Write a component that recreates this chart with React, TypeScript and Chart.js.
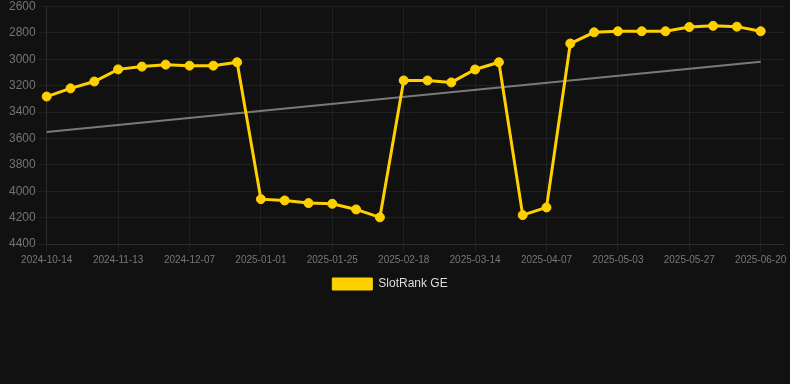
import React, { useEffect, useRef } from "react";
import { Chart, registerables } from "chart.js";

Chart.register(...registerables);

const dates: string[] = [
  "2024-10-14", "2024-10-24", "2024-11-03", "2024-11-13", "2024-11-21", "2024-11-29",
  "2024-12-07", "2024-12-15", "2024-12-23", "2025-01-01", "2025-01-09", "2025-01-17",
  "2025-01-25", "2025-02-02", "2025-02-10", "2025-02-18", "2025-02-26", "2025-03-06",
  "2025-03-14", "2025-03-22", "2025-03-30", "2025-04-07", "2025-04-16", "2025-04-25",
  "2025-05-03", "2025-05-11", "2025-05-19", "2025-05-27", "2025-06-04", "2025-06-12",
  "2025-06-20", "2025-06-28",
];

const rankValues: (number | null)[] = [
  3282, 3220, 3168, 3076, 3055, 3040, 3048, 3048, 3022,
  4060, 4070, 4090, 4095, 4138, 4198,
  3160, 3160, 3175, 3077, 3022,
  4181, 4123,
  2880, 2795, 2787, 2787, 2787, 2755, 2746, 2752, 2787,
  null,
];

const trendValues: (number | null)[] = [
  3550, null, null, null, null, null, null, null, null, null, null,
  null, null, null, null, null, null, null, null, null, null, null,
  null, null, null, null, null, null, null, null, 3018, null,
];

const yMin = 2600;
const yMax = 4400;
const yStep = 200;
const labelEvery = 3;

const shiftLegend = {
  id: "shiftLegend",
  afterLayout(chart: any) {
    const lg = chart.legend;
    if (lg) {
      lg.left -= 6;
      lg.right -= 6;
    }
  },
};

export default function App() {
  const ref = useRef<HTMLCanvasElement | null>(null);

  useEffect(() => {
    document.body.style.margin = "0";
    document.body.style.background = "#111111";
    const font = "'Liberation Sans', Arial, Helvetica, sans-serif";
    const gridColor = "rgba(255,255,255,0.06)";
    const chart = new Chart(ref.current as HTMLCanvasElement, {
      type: "line",
      data: {
        labels: dates,
        datasets: [
          {
            label: "SlotRank GE",
            data: rankValues,
            borderColor: "#FFD000",
            backgroundColor: "#FFD000",
            borderWidth: 3,
            pointRadius: 4.5,
            pointBorderWidth: 1,
            pointBackgroundColor: "#FFD000",
            pointBorderColor: "#FFD000",
            tension: 0,
          },
          {
            label: "trend",
            data: trendValues,
            borderColor: "rgba(140,140,140,0.85)",
            backgroundColor: "rgba(140,140,140,0.85)",
            borderWidth: 2,
            pointRadius: 0,
            spanGaps: true,
          },
        ],
      },
      plugins: [shiftLegend],
      options: {
        animation: false,
        responsive: false,
        maintainAspectRatio: false,
        layout: { padding: { left: 6, right: 4, top: 0, bottom: 0 } },
        scales: {
          x: {
            offset: false,
            grid: {
              color: (ctx: any) =>
                ctx.index % labelEvery === 0 && ctx.index <= 30 ? gridColor : "transparent",
              tickLength: 8,
            },
            border: { color: gridColor },
            ticks: {
              color: "#777777",
              font: { family: font, size: 10 },
              autoSkip: false,
              maxRotation: 0,
              padding: 2,
              callback: (_v: any, i: number) =>
                i % labelEvery === 0 && i <= 30 ? dates[i] : "",
            },
          },
          y: {
            reverse: true,
            min: yMin,
            max: yMax,
            grid: { color: gridColor, tickLength: 8 },
            border: { color: gridColor },
            ticks: {
              stepSize: yStep,
              color: "#747474",
              font: { family: font, size: 12, lineHeight: 0.6 },
              padding: 3,
              callback: (v: any) => String(v),
            },
          },
        },
        plugins: {
          legend: {
            position: "bottom",
            labels: {
              color: "#dddddd",
              font: { family: font, size: 12 },
              boxWidth: 40,
              boxHeight: 12,
              generateLabels: (c: any) =>
                Chart.defaults.plugins.legend.labels
                  .generateLabels(c)
                  .filter((it: any) => it.text !== "trend")
                  .map((it: any) => ({ ...it, lineWidth: 1 })),
            },
          },
          tooltip: { enabled: false },
        },
      },
    });
    return () => chart.destroy();
  }, []);

  return (
    <div style={{ width: 790, height: 384, background: "#111111" }}>
      <canvas ref={ref} width={790} height={300} style={{ display: "block" }} />
    </div>
  );
}
